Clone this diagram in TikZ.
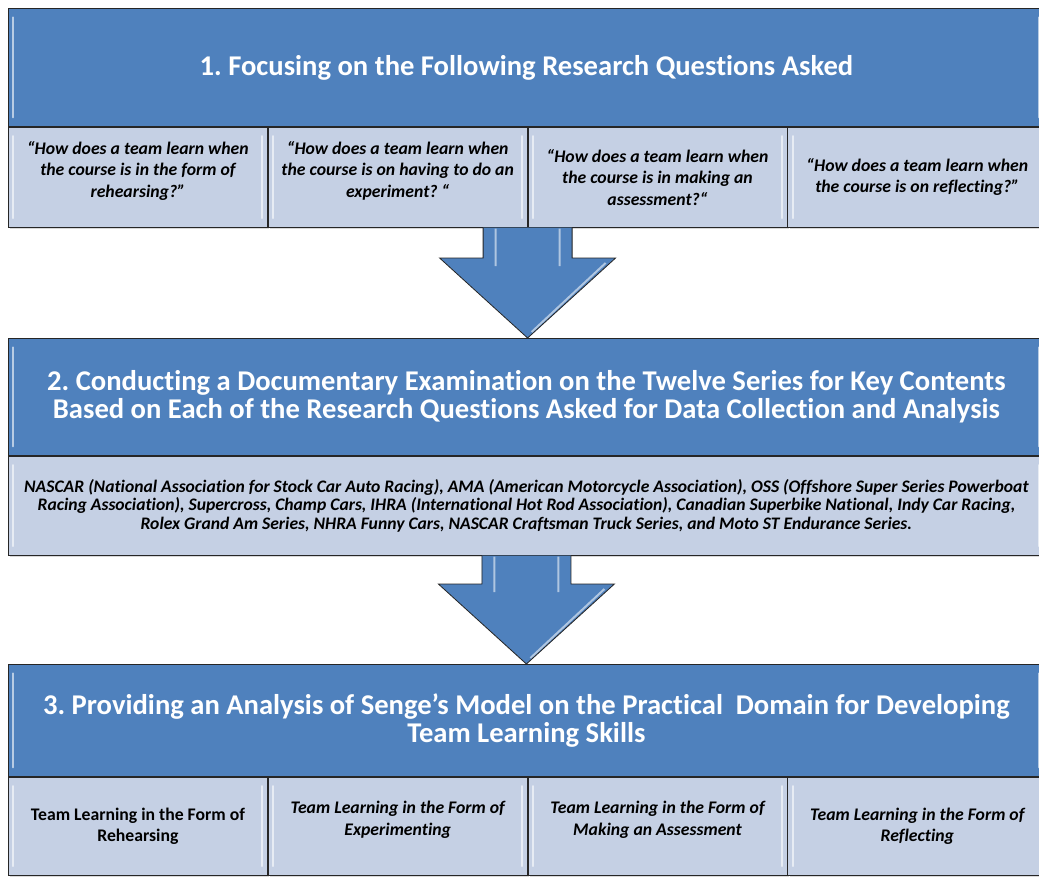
\documentclass[tikz,border=0pt]{standalone}
\usepackage{fontspec}
\setmainfont{Carlito}[Ligatures=NoCommon]
\usetikzlibrary{calc,positioning,shadows}
\frenchspacing

\definecolor{headblue}{RGB}{79,129,189}
\definecolor{paleblue}{RGB}{197,208,228}
\newcommand{\lifttext}{\rule[-16pt]{0pt}{16pt}}

\tikzset{
  gloss/.style={path picture={
    \draw[white, opacity=.6, line width=2pt, line cap=round]
      ([xshift=5pt,yshift=-9pt]path picture bounding box.north west) -- ([xshift=5pt,yshift=9pt]path picture bounding box.south west)
      ([xshift=-5pt,yshift=-9pt]path picture bounding box.north east) -- ([xshift=-5pt,yshift=9pt]path picture bounding box.south east);
  }},
  panel/.style={draw=black!85, line width=0.8pt, inner sep=0pt, align=center, anchor=north west, gloss,
    drop shadow={opacity=.3, shadow xshift=2pt, shadow yshift=-2pt}},
  headbox/.style={panel, fill=headblue, text=white, minimum width=1036pt,
    font=\bfseries\fontsize{28.6}{27.5}\selectfont},
  subbox/.style={panel, fill=paleblue, minimum width=259pt,
    font=\bfseries\itshape\fontsize{17.7}{21.5}\selectfont},
  arrowedge/.style={draw=black!85, line width=0.8pt, line join=miter},
}

\begin{document}
\begin{tikzpicture}[x=1pt, y=-1pt]
\fill[white] (0,0) rectangle (1039,876);
\useasboundingbox (0,0) rectangle (1039,876);

% step 1
\node[headbox, minimum height=118pt] (h1) at (8,8) {1. Focusing on the Following Research Questions Asked};
\node[subbox, minimum height=100pt] (q1) at (h1.south west) {“How does a team learn when\\the course is in the form of\\rehearsing?”\lifttext};
\node[subbox, minimum height=100pt] (q2) at (q1.north east) {“How does a team learn when\\the course is on having to do an\\experiment? “\lifttext};
\node[subbox, minimum height=100pt] (q3) at (q2.north east) {“How does a team learn when\\the course is in making an\\assessment?“};
\node[subbox, minimum height=100pt] (q4) at (q3.north east) {“How does a team learn when\\the course is on reflecting?”};

% step 2
\node[headbox, minimum height=117pt] (h2) at (8,338) {2. Conducting a Documentary Examination on the Twelve Series for Key Contents\\Based on Each of the Research Questions Asked for Data Collection and Analysis};
\node[subbox, minimum width=1036pt, minimum height=99pt, font=\bfseries\itshape\fontsize{17.6}{18.5}\selectfont] (s) at (h2.south west)
  {NASCAR (National Association for Stock Car Auto Racing), AMA (American Motorcycle Association), OSS (Offshore Super Series Powerboat\\
   Racing Association), Supercross, Champ Cars, IHRA (International Hot Rod Association), Canadian Superbike National, Indy Car Racing,\\
   Rolex Grand Am Series, NHRA Funny Cars, NASCAR Craftsman Truck Series, and Moto ST Endurance Series.};

% step 3
\node[headbox, minimum height=112pt] (h3) at (8,664) {3. Providing an Analysis of Senge’s Model on the Practical~ Domain for Developing\\Team Learning Skills};
\node[subbox, minimum height=98pt, font=\bfseries\fontsize{17.7}{21.5}\selectfont] (t1) at (h3.south west) {Team Learning in the Form of\\Rehearsing};
\node[subbox, minimum height=98pt] (t2) at (t1.north east) {Team Learning in the Form of\\Experimenting\lifttext};
\node[subbox, minimum height=98pt] (t3) at (t2.north east) {Team Learning in the Form of\\Making an Assessment\lifttext};
\node[subbox, minimum height=98pt] (t4) at (t3.north east) {Team Learning in the Form of\\Reflecting};

% block arrows
\foreach \from/\to in {q2.south east/h2.north, s.south/h3.north} {
  \fill[headblue] let \p1=(\from), \p2=(\to) in
    (\x1-44.5pt,\y1) -- (\x1-44.5pt,\y2+80pt) -- (\x1-88pt,\y2+80pt) -- (\x1,\y2)
    -- (\x1+88pt,\y2+80pt) -- (\x1+44.5pt,\y2+80pt) -- (\x1+44.5pt,\y1) -- cycle;
  \draw[white, opacity=.55, line width=2pt] let \p1=(\from), \p2=(\to) in
    (\x1-32pt,\y1-1pt) -- (\x1-32pt,\y2+72pt)
    (\x1+32pt,\y1-1pt) -- (\x1+32pt,\y2+72pt)
    (\x1+78pt,\y2+75pt) -- (\x1+4pt,\y2+6pt);
  \draw[arrowedge] let \p1=(\from), \p2=(\to) in
    (\x1-44.5pt,\y1) -- (\x1-44.5pt,\y2+80pt) -- (\x1-88pt,\y2+80pt) -- (\x1,\y2)
    -- (\x1+88pt,\y2+80pt) -- (\x1+44.5pt,\y2+80pt) -- (\x1+44.5pt,\y1);
}
\end{tikzpicture}
\end{document}
